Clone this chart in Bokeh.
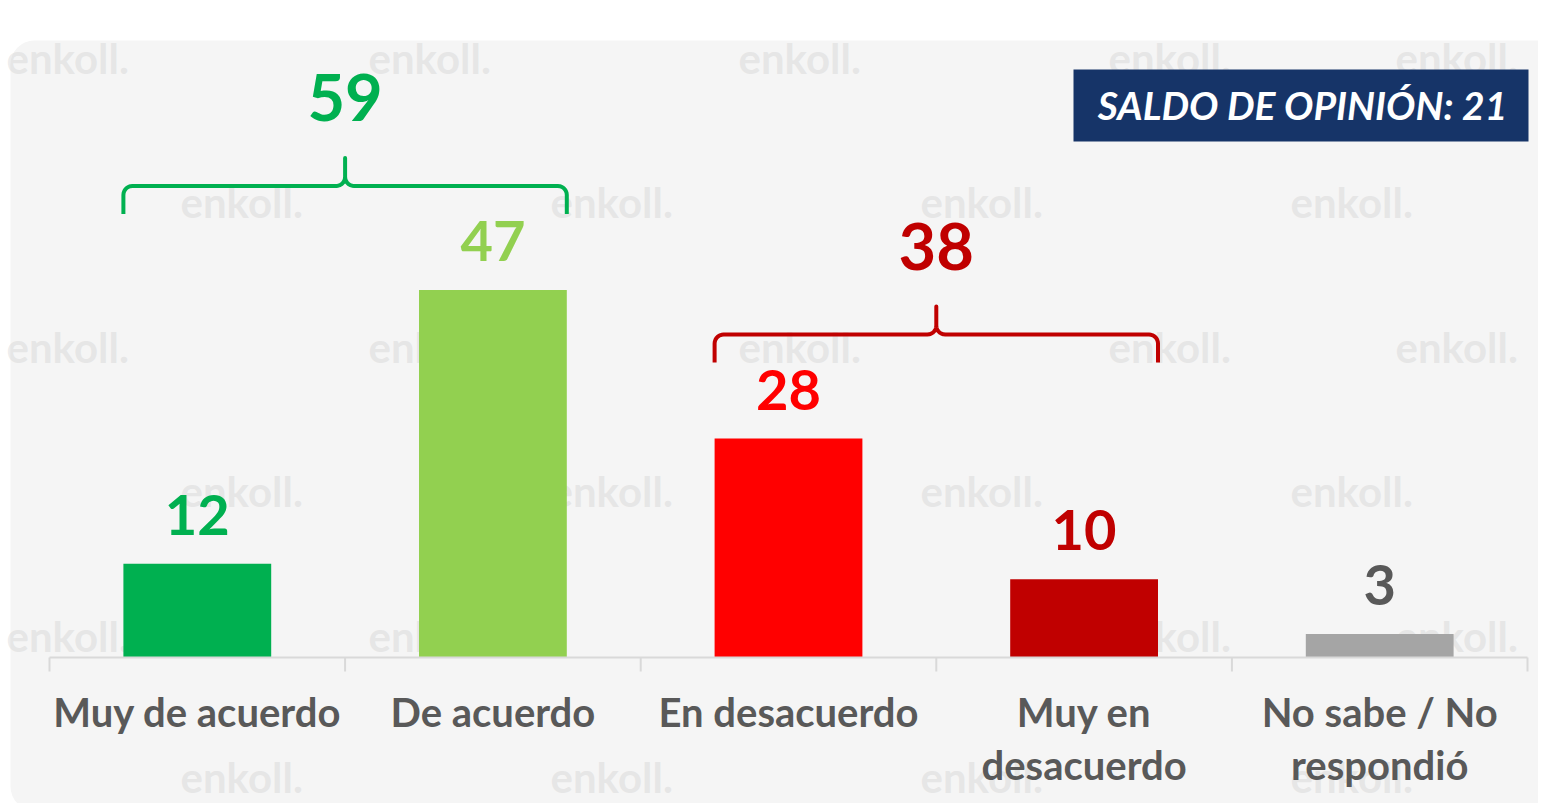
import numpy as np
from bokeh.plotting import figure
from bokeh.models import Range1d, BoxAnnotation, Label
from bokeh.core.properties import value
from bokeh.embed import file_html
from bokeh.resources import INLINE

# ---------------- data ----------------
categories = ["Muy de acuerdo", "De acuerdo", "En desacuerdo",
              "Muy en\ndesacuerdo", "No sabe / No\nrespondió"]
values = [12, 47, 28, 10, 3]
bar_colors = ["#00b050", "#92d050", "#ff0000", "#c00000", "#a5a5a5"]
label_colors = ["#00b050", "#92d050", "#ff0000", "#c00000", "#595959"]
group_members = [[0, 1], [2, 3]]
group_totals = [59, 38]
group_colors = ["#00b050", "#c00000"]
saldo = 21

# ---------------- geometry (pixels -> data) ----------------
W, H = 1538, 803
XS = 295.6      # px per category
YS = 7.82       # px per percentage point
def X(px):      # canvas x -> data x
    return (px - 49) / XS - 0.5
def Y(py):      # canvas y -> data y
    return (657 - py) / YS

FONT = value("Lato")
n = len(categories)
idx = list(range(n))

p = figure(width=W, height=H, output_backend="svg", toolbar_location=None,
           x_range=Range1d(X(0), X(W)),
           y_range=Range1d(Y(H), Y(0)),
           x_axis_location=None, y_axis_location=None, min_border=0)
p.outline_line_color = None
p.background_fill_color = "white"
p.border_fill_color = "white"
p.xgrid.visible = False
p.ygrid.visible = False

# panel
panel = BoxAnnotation(left=X(10), right=X(1640), top=Y(40), bottom=Y(810),
                      fill_color="#f5f5f5", fill_alpha=1, line_color=None,
                      border_radius=24, level="underlay")
p.add_layout(panel)

# watermarks
wx, wy = [], []
for k in range(6):
    base = 57 + k * 144.6
    if k % 2 == 0:
        xs_ = [6, 368, 738, 1108, 1395]
    else:
        xs_ = [180 + 370 * j for j in range(4)]
    for xx in xs_:
        wx.append(X(xx)); wy.append(Y(min(base, 776)))
p.text(x=wx, y=wy, text=["enkoll."] * len(wx), text_font=FONT,
       text_font_style="bold", text_font_size="42px", text_color="#cfcfcf",
       text_alpha=0.4, text_align="left", text_baseline="alphabetic")

# bars
p.vbar(x=idx, top=values, bottom=0, width=0.5, fill_color=bar_colors,
       line_color=None)

# bar value labels
p.text(x=idx, y=values, text=[str(v) for v in values], y_offset=-49,
       text_font=FONT, text_font_style="bold", text_font_size="56px",
       text_color=label_colors, text_align="center", text_baseline="alphabetic")

# axis line and boundary ticks
p.segment(x0=[-0.5], y0=[0], x1=[n - 0.5], y1=[0], line_color="#d9d9d9",
          line_width=2)
bounds = [i - 0.5 for i in range(n + 1)]
p.segment(x0=bounds, y0=[0] * len(bounds), x1=bounds,
          y1=[-14 / YS] * len(bounds), line_color="#d9d9d9", line_width=2)

# category labels
p.text(x=idx, y=[0] * n, text=categories, y_offset=30, text_font=FONT,
       text_font_style="bold", text_font_size="40px", text_color="#595959",
       text_align="center", text_baseline="top", text_line_height=1.12)

# braces
def brace(L, R, ly, r=9, depth=28, peak=28):
    dx, dy = 1 / XS, 1 / YS
    C = (L + R) / 2
    xs, ys = [L], [ly - depth * dy]
    t = np.linspace(np.pi, np.pi / 2, 8)
    xs += list(L + r * dx + r * dx * np.cos(t)); ys += list(ly - r * dy + r * dy * np.sin(t))
    t = np.linspace(-np.pi / 2, 0, 8)
    xs += list(C - r * dx + r * dx * np.cos(t)); ys += list(ly + r * dy + r * dy * np.sin(t))
    xs.append(C); ys.append(ly + peak * dy)
    t = np.linspace(np.pi, 1.5 * np.pi, 8)
    xs += list(C + r * dx + r * dx * np.cos(t)); ys += list(ly + r * dy + r * dy * np.sin(t))
    t = np.linspace(np.pi / 2, 0, 8)
    xs += list(R - r * dx + r * dx * np.cos(t)); ys += list(ly - r * dy + r * dy * np.sin(t))
    xs.append(R); ys.append(ly - depth * dy)
    return xs, ys, C

bxs, bys, tx, ty = [], [], [], []
for members in group_members:
    L = min(members) - 0.25
    R = max(members) + 0.25
    ly = max(values[m] for m in members) + 104 / YS
    xs, ys, C = brace(L, R, ly)
    bxs.append(xs); bys.append(ys); tx.append(C); ty.append(ly)
p.multi_line(xs=bxs, ys=bys, line_color=group_colors, line_width=4,
             line_join="round")
p.text(x=tx, y=ty, text=[str(v) for v in group_totals], y_offset=-88,
       text_font=FONT, text_font_style="bold", text_font_size="65px",
       text_color=group_colors, text_align="center", text_baseline="alphabetic")

# saldo box
box = BoxAnnotation(left=X(1073), right=X(1528), top=Y(69), bottom=Y(141),
                    fill_color="#163468", fill_alpha=1, line_color=None)
p.add_layout(box)
p.add_layout(Label(x=X(1302), y=Y(104), text=f"SALDO DE OPINIÓN: {saldo}",
                   text_font="Lato", text_font_style="bold italic",
                   text_font_size="39px", text_color="white",
                   text_align="center", text_baseline="middle"))

open("out.html", "w").write(file_html(p, INLINE))
